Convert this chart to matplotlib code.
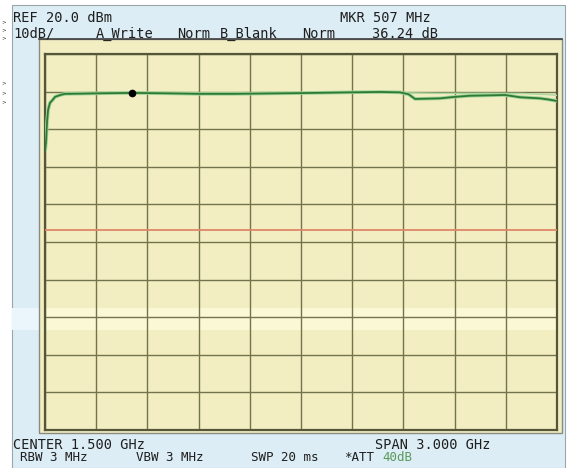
import numpy as np
import matplotlib
matplotlib.use("Agg")
import matplotlib.pyplot as plt
from matplotlib.patches import Rectangle

# Pantalla de analizador de espectro: traza A, marcador y línea de referencia

# Traza A (frecuencia en MHz, nivel en dBm)
freq_mhz = [0, 6, 12, 18, 29, 45, 59, 90, 117, 205, 322, 510, 700, 908, 1100,
            1201, 1494, 1787, 1963, 2080, 2130, 2168, 2314, 2402, 2490, 2600,
            2695, 2783, 2900, 2950, 2988, 3000]
nivel_dbm = [-6.0, -3.4, 2.0, 5.1, 7.0, 7.8, 8.6, 9.1, 9.4, 9.45, 9.55, 9.65,
             9.55, 9.4, 9.4, 9.45, 9.6, 9.8, 9.9, 9.8, 9.3, 8.05, 8.2, 8.6,
             8.9, 9.0, 9.1, 8.5, 8.2, 7.9, 7.6, 7.5]

# Traza tenue (retención anterior) en la parte derecha
fantasma_mhz = [2080, 2300, 2600, 2800, 2950, 3000]
fantasma_dbm = [9.7, 9.55, 9.55, 9.5, 9.2, 9.0]

marcador_mhz = 507
linea_display_dbm = -26.9

ref_dbm = 20.0
db_div = 10
span_mhz = 3000

# Textos de la pantalla
texto_sup = [("REF 20.0 dBm", 13, 17.5), ("MKR 507 MHz", 340, 17.5),
             ("10dB/", 13, 33.5), ("A_Write", 96, 33.5), ("Norm", 177, 33.5),
             ("B_Blank", 220, 33.5), ("Norm", 302, 33.5), ("36.24 dB", 372, 33.5)]
texto_inf = [("CENTER 1.500 GHz", 13, 445, 9.8), ("SPAN 3.000 GHz", 375, 445, 9.8),
             ("RBW 3 MHz", 20, 457.5, 9.0), ("VBW 3 MHz", 136, 457.5, 9.0),
             ("SWP 20 ms", 251, 457.5, 9.0), ("*ATT", 344, 457.5, 9.0)]

W, H = 569, 468
fig = plt.figure(figsize=(W / 100, H / 100), dpi=100)
fig.patch.set_facecolor("white")

# Fondo en coordenadas de píxel
bg = fig.add_axes([0, 0, 1, 1])
bg.set_xlim(0, W)
bg.set_ylim(H, 0)
bg.axis("off")

bg.add_patch(Rectangle((12, 5), 553, 463, facecolor="#dcedf5", edgecolor="#9aa6aa", lw=0.8))
bg.add_patch(Rectangle((12, 308), 27, 22, facecolor="#eaf6fc", edgecolor="none"))
bg.add_patch(Rectangle((39, 39), 523, 394, facecolor="#f2eec2", edgecolor="#8a8a80", lw=1.0))
bg.plot([39, 562], [39, 39], color="#404040", lw=1.2)

for yy in (22, 30, 38, 83, 93, 102):
    bg.text(1, yy, ">", fontsize=4, color="#333333", va="center", ha="left")

mono = "DejaVu Sans Mono"
for s, x, y in texto_sup:
    bg.text(x, y, s, family=mono, fontsize=9.8, color="#1e1e1e", va="center", ha="left")
for s, x, y, fs in texto_inf:
    bg.text(x, y, s, family=mono, fontsize=fs, color="#1e1e1e", va="center", ha="left")
bg.text(344 + 5 * 7.6, 457.5, "40dB", family=mono, fontsize=9.0, color="#5a9a5a",
        va="center", ha="left")

# Área de la retícula
x0, x1, y0, y1 = 45, 557, 54, 430
ax = fig.add_axes([x0 / W, (H - y1) / H, (x1 - x0) / W, (y1 - y0) / H])
ax.set_facecolor("#f2eec2")
ax.set_xlim(0, span_mhz)
ax.set_ylim(ref_dbm - 10 * db_div, ref_dbm)
ax.set_xticks(np.arange(0, span_mhz + 1, span_mhz / 10))
ax.set_yticks(np.arange(ref_dbm - 10 * db_div, ref_dbm + 1, db_div))
ax.tick_params(length=0, labelbottom=False, labelleft=False)
ax.grid(True, color="#73734c", lw=1.0)
for sp in ax.spines.values():
    sp.set_color("#55553a")
    sp.set_linewidth(1.6)

# Franja más clara
ax.axhspan(ref_dbm - (330 - y0) / 37.6 * db_div, ref_dbm - (308 - y0) / 37.6 * db_div,
           color="#fbf8d6", zorder=0.5, lw=0)

ax.axhline(linea_display_dbm, color="#e0866a", lw=1.3, zorder=3)
ax.plot(fantasma_mhz, fantasma_dbm, color="#a8d8a0", lw=1.0, zorder=3)
ax.plot(freq_mhz, nivel_dbm, color="#9fd39a", lw=2.6, zorder=4, solid_capstyle="butt")
ax.plot(freq_mhz, nivel_dbm, color="#2f7a32", lw=1.3, zorder=5)
ax.plot([marcador_mhz], [np.interp(marcador_mhz, freq_mhz, nivel_dbm)], "o",
        color="black", ms=4.5, zorder=6)

fig.savefig("out.png", dpi=100)
